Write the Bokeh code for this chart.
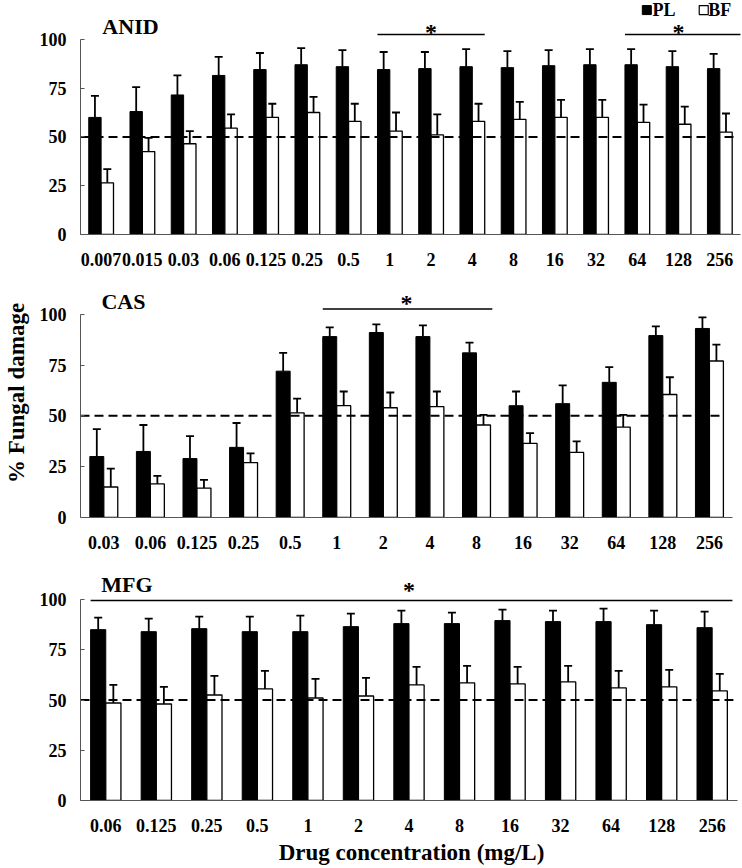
from bokeh.plotting import figure
from bokeh.layouts import column
from bokeh.models import FixedTicker, ColumnDataSource, Whisker, TeeHead
from bokeh.core.properties import value
from bokeh.embed import file_html
from bokeh.resources import INLINE

FONT = "Liberation Serif"

# ---------------- data ----------------
anid_conc = ["0.007", "0.015", "0.03", "0.06", "0.125", "0.25", "0.5", "1", "2", "4",
             "8", "16", "32", "64", "128", "256"]
anid_pl = [60, 63, 71.5, 81.5, 84.5, 87, 86, 84.5, 85, 86, 85.5, 86.5, 87, 87, 86, 85]
anid_pl_err = [11, 12.5, 10, 9.5, 8.5, 8.5, 8.5, 9, 8.5, 9, 8.5, 8, 8, 8, 8, 7.5]
anid_bf = [26.5, 42.5, 46.5, 54.5, 60, 62.5, 58, 53, 51, 58, 59, 60, 60, 57.5, 56.5, 52.5]
anid_bf_err = [7, 7, 6.5, 7, 7, 8, 9, 9.5, 10.5, 9, 9, 9, 9, 9, 9, 9.5]
anid_sig = [(7, 9), (13, 15)]

cas_conc = ["0.03", "0.06", "0.125", "0.25", "0.5", "1", "2", "4", "8", "16", "32",
            "64", "128", "256"]
cas_pl = [30, 32.5, 29, 34.5, 72, 89, 91, 89, 81, 55, 56, 66.5, 89.5, 93]
cas_pl_err = [13.5, 13, 11, 12, 9, 4.5, 4, 5.5, 5, 7, 9, 7.5, 4.5, 5.5]
cas_bf = [15, 16.5, 14.5, 27, 51.5, 55, 54, 54.5, 45.5, 36.5, 32, 44.5, 60.5, 77]
cas_bf_err = [9, 4, 4, 4.5, 7, 7, 7.5, 7.5, 5, 5, 5.5, 6, 8.5, 8]
cas_sig = [(5, 8)]

mfg_conc = ["0.06", "0.125", "0.25", "0.5", "1", "2", "4", "8", "16", "32", "64",
            "128", "256"]
mfg_pl = [85, 84, 85.5, 84, 84, 86.5, 88, 88, 89.5, 89, 89, 87.5, 86]
mfg_pl_err = [6, 6.5, 6, 7.5, 8, 6.5, 6.5, 5.5, 5.5, 5.5, 6.5, 7, 8]
mfg_bf = [48.5, 48, 52.5, 55.5, 51, 52, 57.5, 58.5, 58, 59, 56, 56.5, 54.5]
mfg_bf_err = [9, 8.5, 9.5, 9, 9.5, 9, 9, 8.5, 8.5, 8, 8.5, 8.5, 8.5]
mfg_sig = [(0, 12)]

legend_labels = ["PL", "BF"]
threshold = 50
y_ticks = [0, 25, 50, 75, 100]
AX = "#555555"


def panel(name, conc, pl, pl_err, bf, bf_err, sig, sig_y, star_dy, sig_ext,
          height, bottom, ytop, xend, dash_end, title_xy, ylabel=None, xlabel=None):
    n = len(conc)
    xs = list(range(n))
    p = figure(width=742, height=height, x_range=(-0.5, xend), y_range=(0, ytop),
               output_backend="svg", toolbar_location=None,
               min_border_left=77, min_border_right=0, min_border_top=0,
               min_border_bottom=bottom)
    p.outline_line_color = None
    p.grid.visible = False

    src = ColumnDataSource(dict(
        xb=[i - 0.15 for i in xs], xw=[i + 0.15 for i in xs],
        pl=pl, bf=bf,
        pl_hi=[a + b for a, b in zip(pl, pl_err)],
        bf_hi=[a + b for a, b in zip(bf, bf_err)],
        bf_lo=[a - b for a, b in zip(bf, bf_err)],
    ))
    p.vbar(x="xb", top="pl", bottom=0, width=0.3, source=src,
           fill_color="black", line_color="black", line_width=1)
    p.vbar(x="xw", top="bf", bottom=0, width=0.3, source=src,
           fill_color="white", line_color="black", line_width=1.3)
    p.add_layout(Whisker(source=src, base="xb", upper="pl_hi", lower="pl",
                         dimension="height", line_width=1.8, line_color="black",
                         upper_head=TeeHead(size=8, line_width=1.8, line_color="black"),
                         lower_head=None))
    p.add_layout(Whisker(source=src, base="xw", upper="bf_hi", lower="bf_lo",
                         dimension="height", line_width=1.8, line_color="black",
                         upper_head=TeeHead(size=8, line_width=1.8, line_color="black"),
                         lower_head=TeeHead(size=8, line_width=1.8, line_color="black")))
    # 50 % reference line
    p.segment(x0=[-0.5], x1=[dash_end], y0=[threshold], y1=[threshold],
              line_color="black", line_width=2, line_dash="9 5")

    # significance bars
    for (a, b), ext in zip(sig, sig_ext):
        p.segment(x0=[a - 0.3], x1=[b + ext], y0=[sig_y], y1=[sig_y],
                  line_color="black", line_width=1.6)
        p.text(x=[(a + b) / 2], y=[sig_y], text=["*"], text_font=value(FONT),
               text_font_style="bold", text_font_size="24px", text_align="center",
               text_baseline="middle", y_offset=star_dy, text_color="black")

    p.text(x=[title_xy[0]], y=[title_xy[1]], text=[name], text_font=value(FONT),
           text_font_style="bold", text_font_size="22px", text_align="left",
           text_baseline="middle", text_color="black")

    ya = p.yaxis[0]
    ya.ticker = FixedTicker(ticks=y_ticks)
    ya.bounds = (0, 100)
    ya.axis_line_color = AX
    ya.major_tick_line_color = AX
    ya.major_tick_in = 4
    ya.major_tick_out = 0
    ya.minor_tick_line_color = None
    ya.major_label_standoff = 14
    ya.major_label_text_font = FONT
    ya.major_label_text_font_style = "bold"
    ya.major_label_text_font_size = "18px"
    ya.major_label_text_color = "black"

    xa = p.xaxis[0]
    xa.ticker = FixedTicker(ticks=xs)
    xa.bounds = (-0.5, n - 0.5)
    xa.major_label_overrides = {i: c for i, c in zip(xs, conc)}
    xa.axis_line_color = AX
    xa.major_tick_line_color = None
    xa.minor_tick_line_color = None
    xa.major_label_standoff = 12
    xa.major_label_text_font = FONT
    xa.major_label_text_font_style = "bold"
    xa.major_label_text_font_size = "18px"
    xa.major_label_text_color = "black"

    if ylabel:
        ya.axis_label = ylabel
        ya.axis_label_text_font = FONT
        ya.axis_label_text_font_style = "bold"
        ya.axis_label_text_font_size = "23px"
        ya.axis_label_standoff = 8
        ya.axis_label_text_color = "black"
    if xlabel:
        xa.axis_label = xlabel
        xa.axis_label_text_font = FONT
        xa.axis_label_text_font_style = "bold"
        xa.axis_label_text_font_size = "23px"
        xa.axis_label_standoff = 5
        xa.axis_label_text_color = "black"
    return p


p1 = panel("ANID", anid_conc, anid_pl, anid_pl_err, anid_bf, anid_bf_err, anid_sig,
           102.5, -2, [0.3, 0.5], height=268, bottom=33, ytop=119.9, xend=15.55,
           dash_end=15.43, title_xy=(0.03, 106.6))
# legend (PL filled, BF open)
p1.scatter(x=[13.23], y=[115.0], marker="square", size=9, fill_color="black",
           line_color="black")
p1.scatter(x=[14.61], y=[115.0], marker="square", size=9, fill_color="white",
           line_color="black", line_width=1.2)
p1.text(x=[13.37, 14.72], y=[115.0, 115.0], text=legend_labels, text_font=value(FONT),
        text_font_style="bold", text_font_size="18px", text_align="left",
        text_baseline="middle", text_color="black")

p2 = panel("CAS", cas_conc, cas_pl, cas_pl_err, cas_bf, cas_bf_err, cas_sig,
           102.6, -6, [0.34], height=290, bottom=41, ytop=122.5, xend=13.71,
           dash_end=13.3, title_xy=(-0.05, 106.4), ylabel="% Fungal damage")
p3 = panel("MFG", mfg_conc, mfg_pl, mfg_pl_err, mfg_bf, mfg_bf_err, mfg_sig,
           99.5, -11, [0.4], height=309, bottom=66, ytop=120.4, xend=12.6,
           dash_end=12.42, title_xy=(-0.09, 107.5), xlabel="Drug concentration (mg/L)")

layout = column(p1, p2, p3, spacing=0)
open("out.html", "w").write(file_html(layout, INLINE))
